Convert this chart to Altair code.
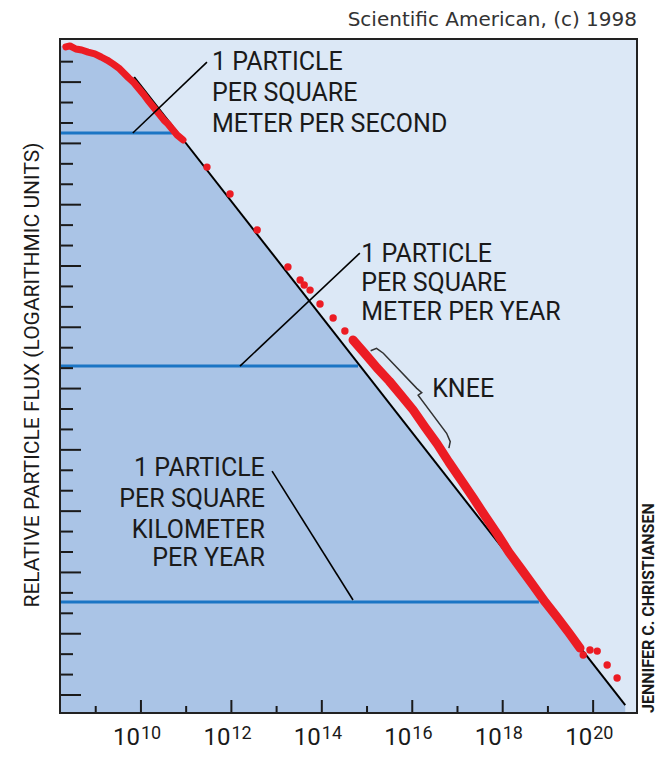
import altair as alt
import pandas as pd

# ---------------- data ----------------
# x: log10(energy / eV); y: relative log flux (one unit per axis tick)
curve_x = [8.34, 8.43, 8.56, 8.69, 8.83, 8.98, 9.12, 9.25, 9.38, 9.51, 9.62, 9.73,
           9.85, 9.96, 10.07, 10.15, 10.24, 10.33, 10.42, 10.51, 10.60, 10.69, 10.80, 10.93]
curve_y = [31.72, 31.77, 31.62, 31.57, 31.47, 31.38, 31.23, 31.08, 30.89, 30.69, 30.45, 30.20,
           29.96, 29.66, 29.37, 29.12, 28.88, 28.63, 28.39, 28.14, 27.95, 27.70, 27.41, 27.17]

dots_x = [11.46, 11.97, 12.57, 13.25, 13.52, 13.61, 13.74, 13.96, 14.25, 14.51,
          19.78, 19.93, 20.09, 20.31, 20.53]
dots_y = [25.84, 24.52, 22.76, 20.95, 20.31, 20.07, 19.82, 19.14, 18.45, 17.82,
          1.96, 2.20, 2.15, 1.47, 0.83]

knee_x = [14.69, 14.96, 15.22, 15.49, 15.75, 16.02, 16.28, 16.55, 16.81, 17.08, 17.35,
          17.61, 17.88, 18.14, 18.41, 18.67, 18.94, 19.20, 19.47, 19.71]
knee_y = [17.38, 16.69, 16.01, 15.37, 14.68, 13.95, 13.12, 12.29, 11.40, 10.52, 9.64,
          8.76, 7.88, 6.98, 6.17, 5.38, 4.55, 3.82, 3.03, 2.30]

powerlaw_x = [9.85, 20.71]
powerlaw_y = [30.25, -0.49]

fill_x = [8.21, 8.34, 8.56, 8.83, 9.12, 9.38, 9.62, 9.85, 20.71]
fill_y = [31.75, 31.80, 31.70, 31.55, 31.30, 31.00, 30.55, 30.15, -0.49]

level_y = [27.51, 16.10, 4.55]          # 1/m2/s, 1/m2/yr, 1/km2/yr
level_end = [10.69, 14.80, 18.80]

xtick_major = [10, 12, 14, 16, 18, 20]
xtick_minor = [9, 11, 13, 15, 17, 19]
xtick_exp = ["10", "12", "14", "16", "18", "20"]
ytick_major = [0, 3, 6, 9, 12, 15, 18, 21, 24, 27, 30]
ytick_minor = [k for k in range(0, 32) if k % 3 != 0]

# annotations (data coordinates)
pointer_x = [9.82, 12.19, 12.90]
pointer_y = [27.51, 16.10, 10.96]
pointer_x2 = [11.46, 14.84, 14.69]
pointer_y2 = [30.98, 21.63, 4.65]

brace_x = [15.08, 15.21, 15.36, 16.10, 16.21, 16.13, 16.76, 16.84, 16.81]
brace_y = [16.85, 16.97, 16.73, 15.01, 14.80, 14.68, 12.81, 12.40, 12.08]

label1 = ["1 PARTICLE", "PER SQUARE", "METER PER SECOND"]
label1_x = 11.57
label1_y = [30.98, 29.47, 27.95]
label2 = ["1 PARTICLE", "PER SQUARE", "METER PER YEAR"]
label2_x = 14.87
label2_y = [21.59, 20.17, 18.75]
label3 = ["1 PARTICLE", "PER SQUARE", "KILOMETER", "PER YEAR"]
label3_x = 12.74
label3_y = [11.11, 9.59, 8.08, 6.71]
knee_label = "KNEE"
knee_label_xy = (16.44, 15.00)

# ---------------- style ----------------
W, H = 577, 674
XDOM = [8.21, 20.97]
YDOM = [-0.88, 32.11]
LIGHT = "#dce8f6"
DARK = "#aac4e6"
BLUE = "#1b75c4"
RED = "#ec1c24"
INK = "#1a1a1a"
FONT = "Roboto"

xs = alt.Scale(domain=XDOM, nice=False, zero=False)
ys = alt.Scale(domain=YDOM, nice=False, zero=False)


def X(f):
    return alt.X(f, type="quantitative", scale=xs, axis=None)


def Y(f):
    return alt.Y(f, type="quantitative", scale=ys, axis=None)


fill_df = pd.DataFrame({"x": fill_x, "y": fill_y, "y0": [YDOM[0]] * len(fill_x)})
area = alt.Chart(fill_df).mark_area(color=DARK).encode(x=X("x"), y=Y("y"), y2="y0")

lev_df = pd.DataFrame({"x0": [XDOM[0]] * 3, "x1": level_end, "y": level_y})
levels = alt.Chart(lev_df).mark_rule(color=BLUE, strokeWidth=3).encode(
    x=X("x0"), x2="x1", y=Y("y"))

ytm = alt.Chart(pd.DataFrame({"k": ytick_major})).mark_rule(color=INK, strokeWidth=2).encode(
    y=Y("k"), x=alt.value(0), x2=alt.value(21))
ytn = alt.Chart(pd.DataFrame({"k": ytick_minor})).mark_rule(color=INK, strokeWidth=2).encode(
    y=Y("k"), x=alt.value(0), x2=alt.value(13))
xtm = alt.Chart(pd.DataFrame({"v": xtick_major})).mark_rule(color=INK, strokeWidth=2).encode(
    x=X("v"), y=alt.value(H), y2=alt.value(H - 13))
xtn = alt.Chart(pd.DataFrame({"v": xtick_minor})).mark_rule(color=INK, strokeWidth=2).encode(
    x=X("v"), y=alt.value(H), y2=alt.value(H - 7))

pl_df = pd.DataFrame({"x": powerlaw_x, "y": powerlaw_y})
powerlaw = alt.Chart(pl_df).mark_line(color="#000", strokeWidth=2).encode(x=X("x"), y=Y("y"))

curve_df = pd.DataFrame({"x": curve_x, "y": curve_y})
curve = alt.Chart(curve_df).mark_line(color=RED, strokeWidth=7, strokeCap="round",
                                      strokeJoin="round").encode(x=X("x"), y=Y("y"))
knee_df = pd.DataFrame({"x": knee_x, "y": knee_y})
knee = alt.Chart(knee_df).mark_line(color=RED, strokeWidth=9, strokeCap="round",
                                    strokeJoin="round").encode(x=X("x"), y=Y("y"))
dots_df = pd.DataFrame({"x": dots_x, "y": dots_y})
dots = alt.Chart(dots_df).mark_circle(color=RED, size=55, opacity=1).encode(x=X("x"), y=Y("y"))

ptr_df = pd.DataFrame({"x": pointer_x, "y": pointer_y, "x2": pointer_x2, "y2": pointer_y2})
pointers = alt.Chart(ptr_df).mark_rule(color="#000", strokeWidth=1.6).encode(
    x=X("x"), y=Y("y"), x2="x2", y2="y2")

brace_df = pd.DataFrame({"x": brace_x, "y": brace_y, "i": list(range(len(brace_x)))})
brace = alt.Chart(brace_df).mark_line(color="#333", strokeWidth=1.5).encode(
    x=X("x"), y=Y("y"), order="i")


def text_layer(lines, xval, yvals, align):
    df = pd.DataFrame({"t": lines, "x": [xval] * len(lines), "y": yvals})
    return alt.Chart(df).mark_text(font=FONT, fontSize=25, color=INK, align=align,
                                   baseline="middle").encode(x=X("x"), y=Y("y"), text="t")


t1 = text_layer(label1, label1_x, label1_y, "left")
t2 = text_layer(label2, label2_x, label2_y, "left")
t3 = text_layer(label3, label3_x, label3_y, "right")
tk = text_layer([knee_label], knee_label_xy[0], [knee_label_xy[1]], "left")

xl_df = pd.DataFrame({"v": xtick_major, "base": ["10"] * 6, "exp": xtick_exp})
xbase = alt.Chart(xl_df).mark_text(font=FONT, fontSize=24, color=INK, align="right",
                                   baseline="alphabetic", dx=-1).encode(
    x=X("v"), y=alt.value(H + 32), text="base")
xexp = alt.Chart(xl_df).mark_text(font=FONT, fontSize=18, color=INK, align="left",
                                  baseline="alphabetic", dx=0).encode(
    x=X("v"), y=alt.value(H + 26), text="exp")

one = pd.DataFrame({"t": ["Scientific American, (c) 1998"]})
credit = alt.Chart(one).mark_text(font="DejaVu Sans", fontSize=20, color="#333", align="right",
                                  baseline="middle").encode(
    x=alt.value(W), y=alt.value(-19), text="t")
ytitle = alt.Chart(pd.DataFrame({"t": ["RELATIVE PARTICLE FLUX (LOGARITHMIC UNITS)"]})).mark_text(
    font=FONT, fontSize=21, color=INK, angle=270, align="center", baseline="middle").encode(
    x=alt.value(-27), y=alt.value(336), text="t")
artist = alt.Chart(pd.DataFrame({"t": ["JENNIFER C. CHRISTIANSEN"]})).mark_text(
    font=FONT, fontSize=16, fontWeight="bold", color=INK, angle=270, align="left",
    baseline="middle").encode(x=alt.value(589), y=alt.value(H), text="t")

frame = alt.Chart(pd.DataFrame({"a": [0]})).mark_rect(filled=False, stroke="#222",
                                                       strokeWidth=2).encode(
    x=alt.value(0), x2=alt.value(W), y=alt.value(0), y2=alt.value(H))

chart = alt.layer(
    area, levels, ytm, ytn, xtm, xtn, powerlaw, curve, knee, dots, pointers, brace,
    t1, t2, t3, tk, xbase, xexp, credit, ytitle, artist, frame
).properties(
    width=W, height=H,
    autosize=alt.AutoSizeParams(type="none"),
    padding={"left": 52, "top": 31, "right": 22, "bottom": 40},
).configure_view(fill=LIGHT, strokeWidth=0)

chart.save("out.html", embed_options={"renderer": "svg", "actions": False})
